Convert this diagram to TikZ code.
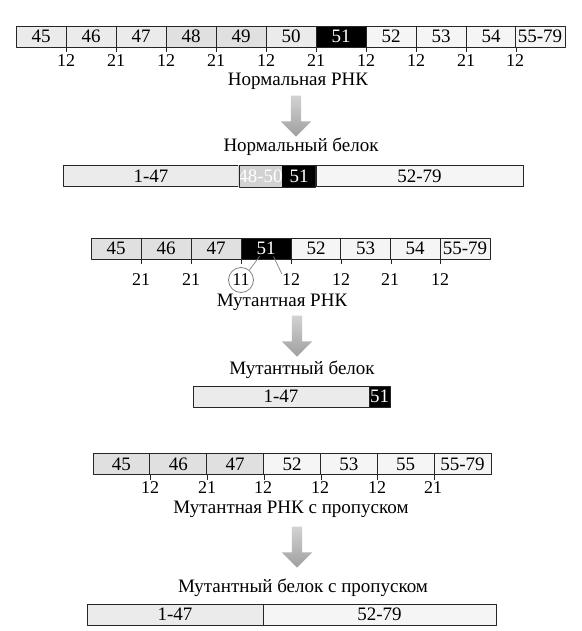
\documentclass[tikz,border=0pt]{standalone}
\usepackage{fontspec}
\setmainfont{Liberation Serif}
\usetikzlibrary{shapes.arrows}

\begin{document}
\begin{tikzpicture}[x=1pt,y=-1pt,line join=bevel,
  exon/.style={draw=black!85,line width=0.9pt,minimum height=21pt,minimum width=50pt,inner sep=0pt,font=\fontsize{19}{19}\selectfont},
  pale/.style={fill=gray!8},
  mid/.style={fill=gray!16},
  deep/.style={fill=gray!24},
  dark/.style={fill=black,text=white},
  num/.style={inner sep=0pt,font=\fontsize{18}{18}\selectfont},
  lbl/.style={inner sep=0pt,font=\fontsize{19}{19}\selectfont},
  tick/.style={black!85,line width=0.8pt},
  bigarrow/.style={single arrow,shape border rotate=270,draw=none,inner sep=5pt,
    single arrow head extend=10pt,minimum height=41pt,top color=gray!35,bottom color=gray!75},
]
\useasboundingbox (0,0) rectangle (581,631);
%%
%% normal RNA
 \node (nrna_0) at (41,36.5) [exon,mid] {45};
 \node (nrna_1) at (91,36.5) [exon,mid] {46};
 \node (nrna_2) at (141,36.5) [exon,mid] {47};
 \node (nrna_3) at (191,36.5) [exon,deep] {48};
 \node (nrna_4) at (241,36.5) [exon,deep] {49};
 \node (nrna_5) at (291,36.5) [exon,mid] {50};
 \node (nrna_6) at (341,36.5) [exon,dark] {51};
 \node (nrna_7) at (391,36.5) [exon,pale] {52};
 \node (nrna_8) at (441,36.5) [exon,pale] {53};
 \node (nrna_9) at (491,36.5) [exon,pale] {54};
 \node (nrna_10) at (540,36.5) [exon,pale] {55-79};

  \draw [tick] (nrna_0.south east) -- ++(0,5);
  \draw [tick] (nrna_1.south east) -- ++(0,5);
  \draw [tick] (nrna_2.south east) -- ++(0,5);
  \draw [tick] (nrna_3.south east) -- ++(0,5);
  \draw [tick] (nrna_4.south east) -- ++(0,5);
  \draw [tick] (nrna_5.south east) -- ++(0,5);
  \draw [tick] (nrna_6.south east) -- ++(0,5);
  \draw [tick] (nrna_7.south east) -- ++(0,5);
  \draw [tick] (nrna_8.south east) -- ++(0,5);
  \draw [tick] (nrna_9.south east) -- ++(0,5);

 \node (nnum_0) at (66,61) [num] {12};
 \node (nnum_1) at (116,61) [num] {21};
 \node (nnum_2) at (166,61) [num] {12};
 \node (nnum_3) at (216,61) [num] {21};
 \node (nnum_4) at (266,61) [num] {12};
 \node (nnum_5) at (316,61) [num] {21};
 \node (nnum_6) at (366,61) [num] {12};
 \node (nnum_7) at (416,61) [num] {12};
 \node (nnum_8) at (466,61) [num] {21};
 \node (nnum_9) at (515,61) [num] {12};
 \node (nlbl_0) at (298,81) [lbl] {Нормальная РНК};
 \node (narr_0) at (296,113.5) [bigarrow] {};
%%
%% normal protein
 \node (nlbl_1) at (301,147) [lbl] {Нормальный белок};
 \node (nprot_0) at (151,176) [exon,mid,minimum width=176pt] {1-47};
 \node (nprot_1) at (260.5,176) [exon,fill=gray!35,text=white,minimum width=43pt,draw=none] {48-50};
 \node (nprot_2) at (299,176) [exon,dark,minimum width=34pt,draw=none] {51};
 \node (nprot_3) at (419.5,176) [exon,pale,minimum width=207pt] {52-79};
 \draw [black!85,line width=0.9pt] (nprot_0.north east) rectangle (nprot_3.south west);
%%
%% mutant RNA
 \node (mrna_0) at (116,248.5) [exon,deep] {45};
 \node (mrna_1) at (166,248.5) [exon,deep] {46};
 \node (mrna_2) at (216,248.5) [exon,deep] {47};
 \node (mrna_3) at (266,248.5) [exon,dark] {51};
 \node (mrna_4) at (316,248.5) [exon,pale] {52};
 \node (mrna_5) at (365.5,248.5) [exon,pale] {53};
 \node (mrna_6) at (415,248.5) [exon,pale] {54};
 \node (mrna_7) at (465,248.5) [exon,pale] {55-79};

  \draw [tick] (mrna_0.south east) -- ++(0,5);
  \draw [tick] (mrna_1.south east) -- ++(0,5);
  \draw [tick] (mrna_2.south east) -- ++(0,5);
  \draw [tick] (mrna_3.south east) -- ++(0,5);
  \draw [tick] (mrna_4.south east) -- ++(0,5);
  \draw [tick] (mrna_5.south east) -- ++(0,5);
  \draw [tick] (mrna_6.south east) -- ++(0,5);

 \node (mnum_0) at (141,280) [num] {21};
 \node (mnum_1) at (191,280) [num] {21};
 \node (mnum_2) at (241,280) [num,circle,draw=gray,line width=0.8pt,minimum size=25pt] {11};
 \node (mnum_3) at (291,280) [num] {12};
 \node (mnum_4) at (341,280) [num] {12};
 \node (mnum_5) at (390,280) [num] {21};
 \node (mnum_6) at (440,280) [num] {12};
  \draw [gray,line width=0.7pt] (mnum_2.50) -- ([xshift=19pt,yshift=3pt]mrna_3.south west);
  \draw [gray,line width=0.7pt] ([xshift=33pt,yshift=3pt]mrna_3.south west) -- (mnum_3.north west);
 \node (mlbl_0) at (282,302) [lbl] {Мутантная РНК};
 \node (marr_0) at (297,333.5) [bigarrow] {};
%%
%% mutant protein
 \node (mlbl_1) at (302,370) [lbl] {Мутантный белок};
 \node (mprot_0) at (281,396.5) [exon,mid,minimum width=176pt] {1-47};
 \node (mprot_1) at (379.5,396.5) [exon,dark,minimum width=21pt] {51};
%%
%% mutant RNA with skipped exon
 \node (srna_0) at (121.4,464) [exon,deep,minimum width=56.9pt] {45};
 \node (srna_1) at (178.3,464) [exon,deep,minimum width=56.9pt] {46};
 \node (srna_2) at (235.1,464) [exon,deep,minimum width=56.9pt] {47};
 \node (srna_3) at (292,464) [exon,pale,minimum width=56.9pt] {52};
 \node (srna_4) at (348.8,464) [exon,pale,minimum width=56.9pt] {53};
 \node (srna_5) at (405.7,464) [exon,pale,minimum width=56.9pt] {55};
 \node (srna_6) at (462.5,464) [exon,pale,minimum width=56.9pt] {55-79};

  \draw [tick] (srna_0.south east) -- ++(0,5);
  \draw [tick] (srna_1.south east) -- ++(0,5);
  \draw [tick] (srna_2.south east) -- ++(0,5);
  \draw [tick] (srna_3.south east) -- ++(0,5);
  \draw [tick] (srna_4.south east) -- ++(0,5);
  \draw [tick] (srna_5.south east) -- ++(0,5);

 \node (snum_0) at (150,488) [num] {12};
 \node (snum_1) at (207,488) [num] {21};
 \node (snum_2) at (263,488) [num] {12};
 \node (snum_3) at (320,488) [num] {12};
 \node (snum_4) at (377,488) [num] {12};
 \node (snum_5) at (433,488) [num] {21};
 \node (slbl_0) at (291,509) [lbl] {Мутантная РНК с пропуском};
 \node (sarr_0) at (297,544.5) [bigarrow] {};
%%
%% mutant protein with skipped exon
 \node (slbl_1) at (303,588) [lbl] {Мутантный белок с пропуском};
 \node (sprot_0) at (175,614.5) [exon,mid,minimum width=176pt] {1-47};
 \node (sprot_1) at (379.5,614.5) [exon,pale,minimum width=233pt] {52-79};
%
\end{tikzpicture}
\end{document}
